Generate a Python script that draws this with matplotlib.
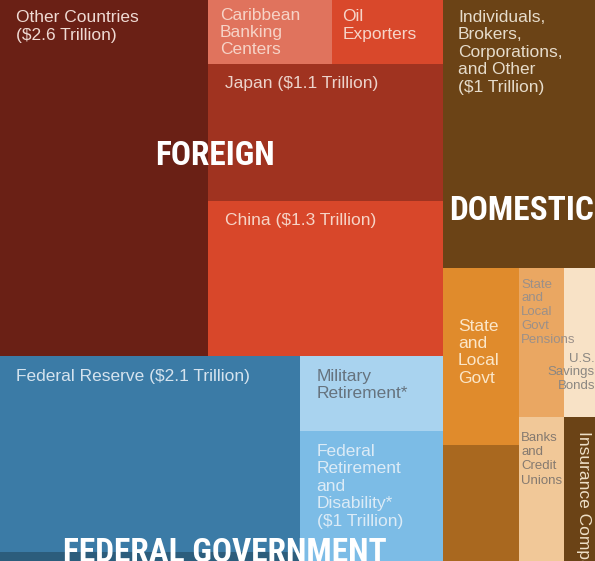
import os
import matplotlib
matplotlib.use("Agg")
import matplotlib.pyplot as plt
from matplotlib import font_manager
from matplotlib.font_manager import FontProperties
from matplotlib.patches import Rectangle

# canvas size in pixels (figure is drawn 1 data unit = 1 px)
W, H = 595, 561

# values in trillions of dollars, as drawn (visible share of each block)
foreign_names = ["Other Countries", "Caribbean Banking Centers", "Oil Exporters", "Japan", "China"]
foreign_values = [2.6, 0.28, 0.25, 1.13, 1.28]
foreign_colors = ["#6a2015", "#e0735d", "#d9482b", "#a03320", "#d8472a"]

federal_names = ["Federal Reserve", "Other Federal", "Military Retirement", "Federal Retirement and Disability"]
federal_values = [2.07, 0.095, 0.38, 0.655]
federal_colors = ["#3b7ba6", "#2c5d7c", "#a9d3ef", "#7cbce6"]

domestic_names = ["Individuals, Brokers, Corporations, and Other", "State and Local Govt", "Other Domestic",
                  "State and Local Govt Pensions", "Banks and Credit Unions", "U.S. Savings Bonds",
                  "Insurance Companies"]
domestic_values = [1.43, 0.474, 0.31, 0.236, 0.228, 0.163, 0.157]
domestic_colors = ["#6b4316", "#e08b2c", "#a9681f", "#eaa762", "#f1c898", "#f8e2c6", "#6b4316"]


def pick_font(candidates):
    for name in candidates:
        try:
            font_manager.findfont(name, fallback_to_default=False)
            return name
        except Exception:
            continue
    return "DejaVu Sans"


def is_bold(w):
    if isinstance(w, (int, float)):
        return w >= 600
    return str(w).lower() in ("bold", "semibold", "demibold", "heavy", "extra bold", "black")


def find_condensed_bold():
    # look for any installed narrow / condensed bold face for the headings
    prefs = ["liberation sans narrow", "roboto condensed", "noto sans", "open sans", "dejavu", "arial narrow"]
    found = []
    for f in font_manager.fontManager.ttflist:
        base = os.path.basename(f.fname).lower()
        tag = (f.name + " " + base).lower()
        narrow = ("condensed" in tag or "narrow" in tag or str(f.stretch) == "condensed")
        if not narrow or not is_bold(f.weight):
            continue
        if "extra" in tag or "ultra" in tag or "semi" in tag or "italic" in tag or "oblique" in tag:
            continue
        rank = len(prefs)
        for i, p in enumerate(prefs):
            if p in tag:
                rank = i
                break
        found.append((rank, f.fname))
    if found:
        found.sort()
        return found[0][1]
    return None


BODY = pick_font(["Liberation Sans", "Arial", "DejaVu Sans"])
cond = find_condensed_bold()
if cond:
    head_fp = FontProperties(fname=cond, size=24)
else:
    head_fp = FontProperties(family=BODY, weight="bold", size=19)


def split(rect, weights, vertical):
    # slice a rectangle by weights; vertical stacks top to bottom
    x, y, w, h = rect
    total = float(sum(weights))
    out, pos = [], 0.0
    for v in weights:
        f = v / total
        if vertical:
            out.append((x, y + pos * h, w, f * h))
        else:
            out.append((x + pos * w, y, f * w, h))
        pos += f
    return out


fv, gv, dv = foreign_values, federal_values, domestic_values

left, right = split((0, 0, W, H), [sum(fv) + sum(gv), sum(dv)], False)
foreign_r, federal_r = split(left, [sum(fv), sum(gv)], True)

other, rest = split(foreign_r, [fv[0], sum(fv[1:])], False)
toprow, japan, china = split(rest, [fv[1] + fv[2], fv[3], fv[4]], True)
carib, oil = split(toprow, [fv[1], fv[2]], False)

fed_left, fed_right = split(federal_r, [gv[0] + gv[1], gv[2] + gv[3]], False)
fedres, fedother = split(fed_left, [gv[0], gv[1]], True)
mil, fret = split(fed_right, [gv[2], gv[3]], True)

indiv, dom_bottom = split(right, [dv[0], sum(dv[1:])], True)
c1, c2, c3 = split(dom_bottom, [dv[1] + dv[2], dv[3] + dv[4], dv[5] + dv[6]], False)
sl, slother = split(c1, [dv[1], dv[2]], True)
pens, banks = split(c2, [dv[3], dv[4]], True)
sav, ins = split(c3, [dv[5], dv[6]], True)

foreign_rects = [other, carib, oil, japan, china]
federal_rects = [fedres, fedother, mil, fret]
domestic_rects = [indiv, sl, slother, pens, banks, sav, ins]

fig = plt.figure(figsize=(W / 100, H / 100), dpi=100)
ax = fig.add_axes([0, 0, 1, 1])
ax.set_xlim(0, W)
ax.set_ylim(H, 0)
ax.axis("off")

for rects, colors in [(foreign_rects, foreign_colors), (federal_rects, federal_colors),
                      (domestic_rects, domestic_colors)]:
    for (x, y, w, h), c in zip(rects, colors):
        ax.add_patch(Rectangle((x, y), w, h, facecolor=c, edgecolor="none"))


def label(rect, text, color, size=12.5, dx=16, dy=8, ls=1.24, ha="left", **kw):
    x, y, w, h = rect
    tx = x + dx if ha == "left" else x + w + dx
    ax.text(tx, y + dy, text, color=color, fontsize=size, family=BODY, ha=ha, va="top",
            linespacing=ls, clip_on=True, **kw)


label(other, "Other Countries\n($2.6 Trillion)", "#efdad3", dy=10)
label(carib, "Caribbean\nBanking\nCenters", "#f6d3c7", dx=12, dy=8, ls=1.15)
label(oil, "Oil\nExporters", "#f6d5c9", dx=10, dy=9)
label(japan, "Japan ($1.1 Trillion)", "#ecd3cb", dx=17, dy=12)
label(china, "China ($1.3 Trillion)", "#f6d4c7", dx=17, dy=12)
label(fedres, "Federal Reserve ($2.1 Trillion)", "#d5e3ee", dy=13)
label(mil, "Military\nRetirement*", "#66737e", dx=17, dy=13)
label(fret, "Federal\nRetirement\nand\nDisability*\n($1 Trillion)", "#dcebf6", dx=17, dy=13, ls=1.2)
label(indiv, "Individuals,\nBrokers,\nCorporations,\nand Other\n($1 Trillion)", "#e6dccb", dx=15, dy=10,
      ls=1.2)
label(sl, "State\nand\nLocal\nGovt", "#fbe6c8", dx=15, dy=51, ls=1.2)
label(pens, "State\nand\nLocal\nGovt\nPensions", "#9b9089", size=9.5, dx=2, dy=11, ls=1.2)
label(sav, "U.S.\nSavings\nBonds", "#8b8782", size=9.5, dx=0, dy=85, ls=1.2, ha="right",
      multialignment="right")
label(banks, "Banks\nand\nCredit\nUnions", "#857a70", size=9.5, dx=2, dy=15, ls=1.25)

x, y, w, h = ins
ax.text(x + w / 2 + 4, y + 14, "Insurance Companies", color="#efe0c8", fontsize=12.5, family=BODY,
        rotation=-90, ha="center", va="top", clip_on=True)

# group headings
x, y, w, h = foreign_r
ax.text(x + w * 0.485, y + h * 0.44, "FOREIGN", color="white", fontproperties=head_fp,
        ha="center", va="center")
x, y, w, h = indiv
ax.text(x + w / 2 + 3, y + h * 0.79, "DOMESTIC", color="white", fontproperties=head_fp,
        ha="center", va="center")
x, y, w, h = federal_r
ax.text(x + w / 2 + 3, H + 1, "FEDERAL GOVERNMENT", color="white", fontproperties=head_fp,
        ha="center", va="baseline", clip_on=True)

fig.savefig("out.png", dpi=100)
